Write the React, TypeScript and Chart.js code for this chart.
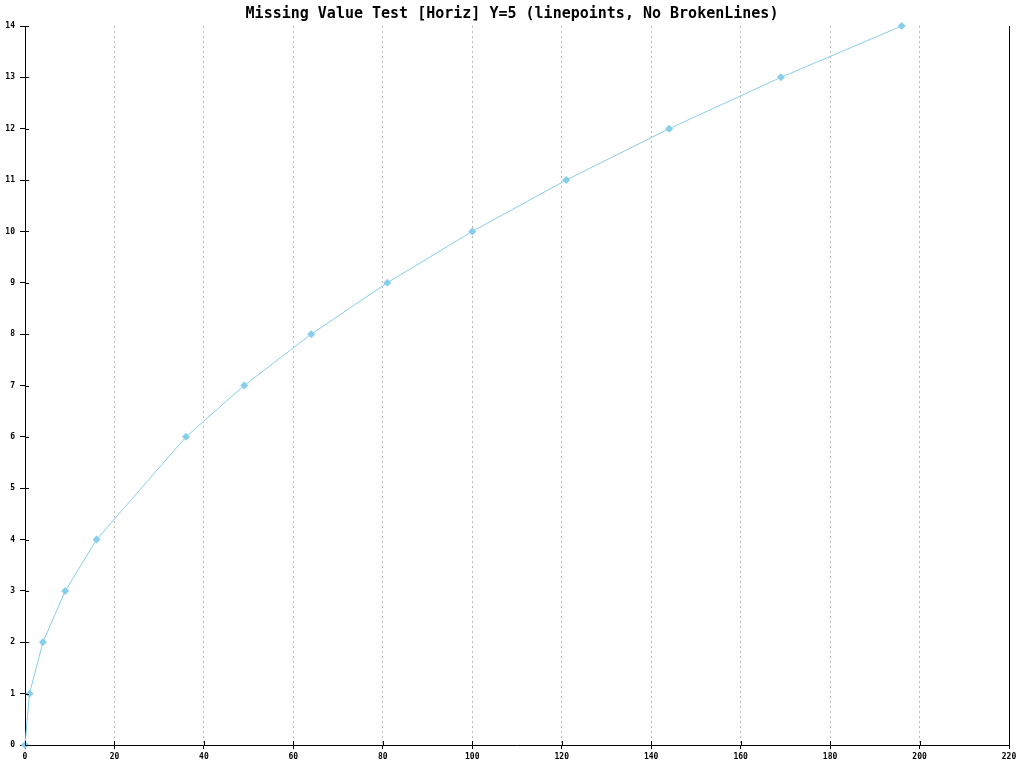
import React, { useEffect, useRef } from "react";
import { Chart, registerables } from "chart.js";

Chart.register(...registerables);

const yValues = [0, 1, 2, 3, 4, 6, 7, 8, 9, 10, 11, 12, 13, 14];
const xValues = [0, 1, 4, 9, 16, 36, 49, 64, 81, 100, 121, 144, 169, 196];
const titleText = "Missing Value Test [Horiz] Y=5 (linepoints, No BrokenLines)";

const innerTicks = {
  id: "innerTicks",
  afterDraw(chart: any) {
    const { ctx, chartArea, scales } = chart;
    ctx.save();
    ctx.strokeStyle = "#000";
    ctx.lineWidth = 1;
    ctx.beginPath();
    scales.x.ticks.forEach((t: any) => {
      const px = Math.round(scales.x.getPixelForValue(t.value)) + 0.5;
      ctx.moveTo(px, chartArea.bottom);
      ctx.lineTo(px, chartArea.bottom - 4);
    });
    scales.y.ticks.forEach((t: any) => {
      const py = Math.round(scales.y.getPixelForValue(t.value)) + 0.5;
      ctx.moveTo(chartArea.left, py);
      ctx.lineTo(chartArea.left + 4, py);
    });
    ctx.stroke();
    ctx.restore();
  },
};

export default function App() {
  const ref = useRef<HTMLCanvasElement | null>(null);
  useEffect(() => {
    if (!ref.current) return;
    const tickFont = { family: "'DejaVu Sans Mono', monospace", size: 8, weight: "bold" as const };
    const chart = new Chart(ref.current, {
      type: "scatter",
      data: {
        datasets: [
          {
            data: xValues.map((x, i) => ({ x, y: yValues[i] })),
            showLine: true,
            borderColor: "#87CEEB",
            backgroundColor: "#87CEEB",
            borderWidth: 1,
            pointStyle: "rectRot",
            pointRadius: 4,
            pointBorderWidth: 0,
            clip: false,
          } as any,
        ],
      },
      options: {
        animation: false,
        responsive: false,
        layout: { padding: 0 },
        plugins: {
          legend: { display: false },
          tooltip: { enabled: false },
          title: {
            display: true,
            text: titleText,
            color: "#000",
            font: { family: "'DejaVu Sans Mono', monospace", size: 15, weight: "bold" },
            padding: { top: 5, bottom: 3 },
          },
        },
        scales: {
          x: {
            type: "linear",
            min: 0,
            max: 220,
            ticks: { stepSize: 20, color: "#000", font: tickFont, padding: 3 },
            grid: {
              color: (c: any) => (c.tick && (c.tick.value === 0 || c.tick.value === 220) ? "rgba(0,0,0,0)" : "#bbbbbb"),
              borderDash: [2, 3],
              tickColor: "#000",
              tickBorderDash: [],
              tickLength: 4,
              lineWidth: 1,
            } as any,
            border: { display: true, color: "#000", width: 1, dash: [2, 3] } as any,
            afterFit: (s: any) => {
              s.height = 23;
            },
          },
          y: {
            type: "linear",
            min: 0,
            max: 14,
            ticks: { stepSize: 1, color: "#000", font: tickFont, padding: 5 },
            grid: { drawOnChartArea: false, color: "#000", tickLength: 5 },
            border: { display: true, color: "#000", width: 1 },
            afterFit: (s: any) => {
              s.width = 25;
            },
          },
          y2: {
            type: "linear",
            position: "right",
            min: 0,
            max: 14,
            ticks: { display: false },
            grid: { drawOnChartArea: false, drawTicks: false },
            border: { display: true, color: "#000", width: 1 },
            afterFit: (s: any) => {
              s.width = 15;
            },
          },
        },
      },
      plugins: [innerTicks],
    });
    return () => chart.destroy();
  }, []);
  return (
    <div style={{ position: "fixed", left: 0, top: 0, width: 1024, height: 768, background: "#fff" }}>
      <canvas ref={ref} width={1024} height={768} style={{ width: 1024, height: 768 }} />
    </div>
  );
}
